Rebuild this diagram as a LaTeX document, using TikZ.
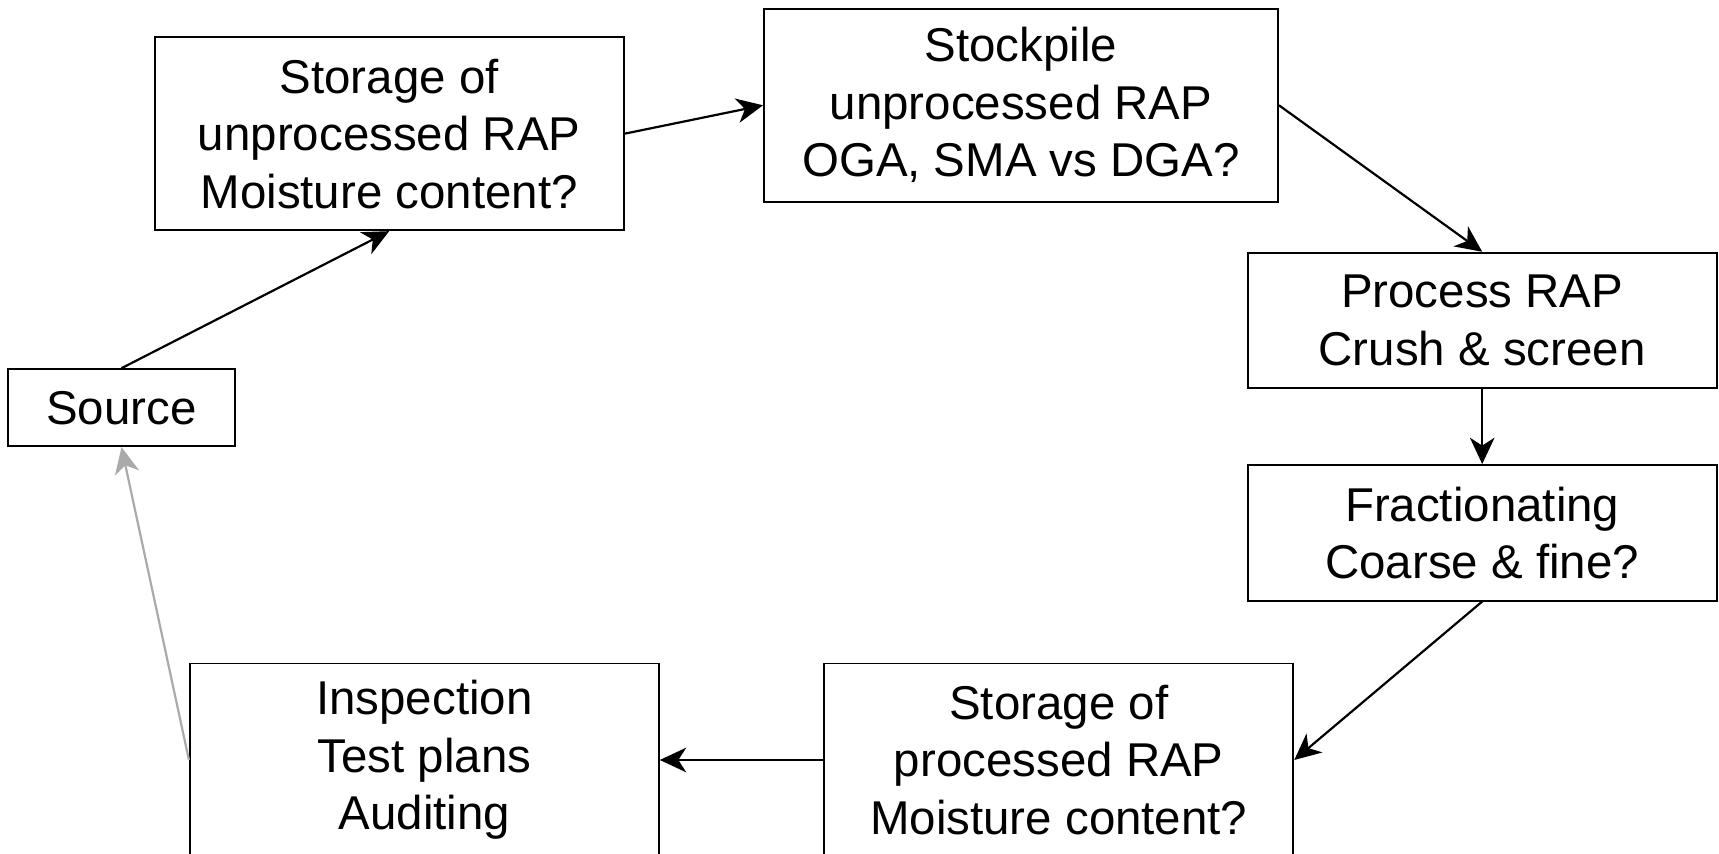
\documentclass[tikz,border=0pt]{standalone}
\usepackage{fontspec}
\setmainfont{Liberation Sans}
\usepackage{tikz}
\usetikzlibrary{arrows.meta, positioning}
\usepackage{xcolor}
\definecolor{cLine}{RGB}{0,0,0}
\definecolor{cBack}{RGB}{170,170,170}
\tikzset{
  basebox/.style={rectangle, draw=cLine, line width=1.1pt, align=center,
                  font=\fontsize{27}{32.7}\selectfont, inner sep=0pt},
  smallnode/.style={basebox, minimum width=4.54cm, minimum height=1.54cm},
  bignode/.style={basebox, minimum width=9.38cm, minimum height=3.86cm},
  widenode/.style={basebox, minimum width=10.28cm, minimum height=3.86cm},
  flatnode/.style={basebox, minimum width=9.38cm, minimum height=2.71cm},
  arrow/.style={-{Stealth[length=15pt, width=14pt, inset=4.5pt]}, line width=1.25pt, color=cLine},
  grayarrow/.style={arrow, color=cBack}
}
\begin{document}
\begin{tikzpicture}

  \useasboundingbox (0,0) rectangle (34.38,17.06);

  % Start
  \node[smallnode] (source) at (2.43,8.906) {Source};

  % Upper row
  \node[bignode] (storeraw) at (7.784,14.386)
      {Storage of\\unprocessed RAP\\Moisture content?};
  \node[widenode] (stockpile) at (20.42,14.954)
      {Stockpile\\unprocessed RAP\\OGA, SMA vs DGA?};

  % Right column
  \node[flatnode] (process) at (29.644,10.65)
      {Process RAP\\Crush \& screen};
  \node[flatnode] (fraction) at (29.644,6.404)
      {Fractionating\\Coarse \& fine?};

  % Lower row
  \node[bignode] (storeproc) at (21.176,1.86)
      {Storage of\\processed RAP\\Moisture content?};
  \node[bignode] (inspect) at (8.488,1.86)
      {Inspection\\Test plans\\Auditing};

  % Arrows
  \draw[arrow] (source.north) -- (storeraw.south);
  \draw[arrow] (storeraw.east) -- (stockpile.west);
  \draw[arrow] (stockpile.east) -- (process.north);
  \draw[arrow] (process.south) -- (fraction.north);
  \draw[arrow] (fraction.south) -- (storeproc.east);
  \draw[arrow] (storeproc.west) -- (inspect.east);
  \draw[grayarrow] (inspect.west) -- (source.south);

\end{tikzpicture}
\end{document}
